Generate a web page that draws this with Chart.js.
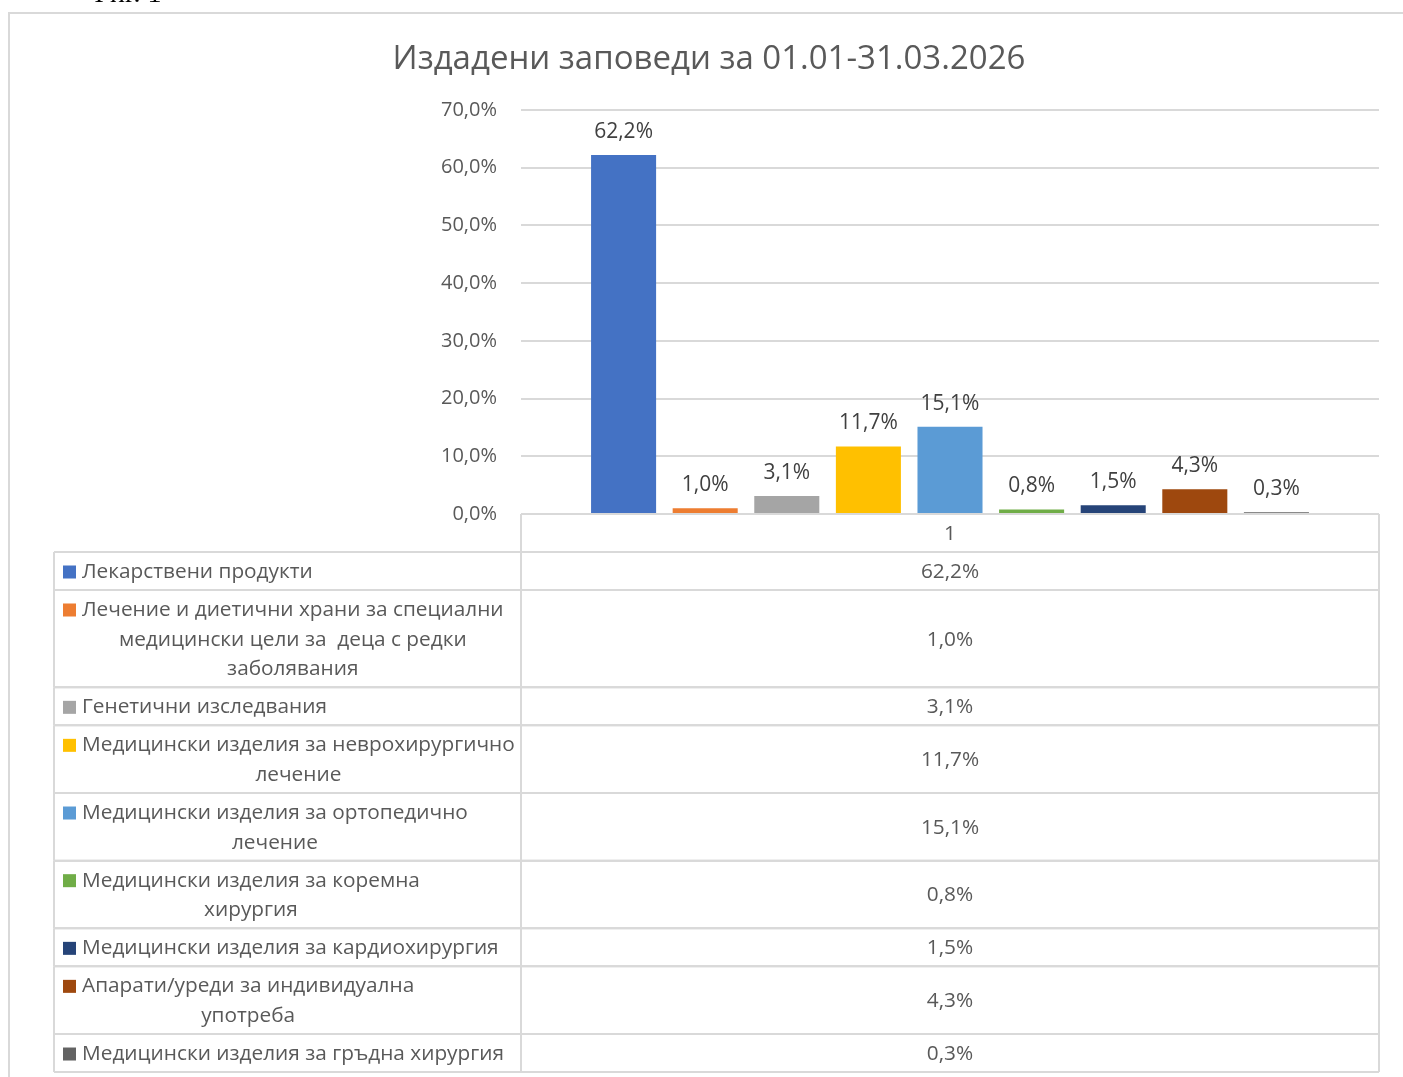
<!DOCTYPE html>
<html>
<head>
<meta charset="utf-8">
<script src="https://cdn.jsdelivr.net/npm/chart.js@4.4.1/dist/chart.umd.min.js"></script>
<style>
  html, body { margin: 0; padding: 0; background: #fff; }
  #wrap { position: relative; width: 1403px; height: 1077px; overflow: hidden; }
</style>
</head>
<body>
<div id="wrap"><canvas id="ordersChart" width="1403" height="1077"></canvas></div>
<script>
// categories / series
const categoryLabels = ["1"];
const seriesNames = [
  ["Лекарствени продукти"],
  ["Лечение и диетични храни за специални", "медицински цели за  деца с редки", "заболявания"],
  ["Генетични изследвания"],
  ["Медицински изделия за неврохирургично", "лечение"],
  ["Медицински изделия за ортопедично", "лечение"],
  ["Медицински изделия за коремна", "хирургия"],
  ["Медицински изделия за кардиохирургия"],
  ["Апарати/уреди за индивидуална", "употреба"],
  ["Медицински изделия за гръдна хирургия"]
];
const seriesValues = [62.2, 1.0, 3.1, 11.7, 15.1, 0.8, 1.5, 4.3, 0.3];
const seriesColors = ["#4472C4", "#ED7D31", "#A5A5A5", "#FFC000", "#5B9BD5", "#70AD47", "#264478", "#9E480E", "#636363"];
const yMin = 0, yMax = 70, yStep = 10;
const chartTitle = "Издадени заповеди за 01.01-31.03.2026";

const FONT = '"Open Sans", "Noto Sans", sans-serif';
const TEXT = "#595959";
const LINE = "#d9d9d9";
const PAD_LEFT = 39;

function pct(v) {
  return v.toFixed(1).replace(".", ",") + "%";
}

// labels over bars, data table under the plot, outer frame
const extras = {
  id: "extras",
  afterDraw(chart) {
    const ctx = chart.ctx;
    const area = chart.chartArea;
    ctx.save();

    // outer frame
    ctx.strokeStyle = LINE;
    ctx.lineWidth = 2;
    ctx.beginPath();
    ctx.moveTo(9, 1080); ctx.lineTo(9, 13); ctx.lineTo(1410, 13);
    ctx.stroke();

    // caption cut off at the top of the page
    ctx.fillStyle = "#000";
    ctx.font = '28px "Liberation Serif", serif';
    ctx.textAlign = "left";
    ctx.textBaseline = "alphabetic";
    ctx.fillText("Фиг. 1", 88, 2);

    // value labels
    ctx.fillStyle = "#404040";
    ctx.font = "21px " + FONT;
    ctx.textAlign = "center";
    ctx.textBaseline = "middle";
    chart.data.datasets.forEach((ds, i) => {
      const bar = chart.getDatasetMeta(i).data[0];
      ctx.fillText(pct(ds.data[0]), bar.x, bar.y - 23);
    });

    // data table
    const xL = 54, xM = area.left, xR = area.right;
    const lineH = 29.67, cellPad = 8.33;
    let y = area.bottom + 38;
    ctx.strokeStyle = LINE;
    ctx.lineWidth = 2;
    ctx.beginPath();
    ctx.moveTo(xM, area.bottom); ctx.lineTo(xM, area.bottom + 38);
    ctx.moveTo(xR, area.bottom); ctx.lineTo(xR, area.bottom + 38);
    ctx.stroke();
    ctx.font = "20.8px " + FONT;
    seriesNames.forEach((lines, i) => {
      const h = lines.length * lineH + cellPad;
      ctx.strokeStyle = LINE;
      ctx.beginPath();
      ctx.moveTo(xL, y); ctx.lineTo(xR, y);
      ctx.moveTo(xL, y + h); ctx.lineTo(xR, y + h);
      ctx.moveTo(xL, y); ctx.lineTo(xL, y + h);
      ctx.moveTo(xM, y); ctx.lineTo(xM, y + h);
      ctx.moveTo(xR, y); ctx.lineTo(xR, y + h);
      ctx.stroke();

      const top = y + h / 2 - (lines.length * lineH) / 2 + 1;
      const blockW = Math.max(...lines.map(t => ctx.measureText(t).width));
      ctx.fillStyle = seriesColors[i];
      ctx.fillRect(63, top + lineH / 2 - 6.5, 13, 13);
      ctx.fillStyle = TEXT;
      ctx.textBaseline = "middle";
      lines.forEach((t, k) => {
        ctx.textAlign = lines.length === 1 ? "left" : "center";
        const tx = ctx.textAlign === "left" ? 82 : 82 + blockW / 2;
        ctx.fillText(t, tx, top + lineH * (k + 0.5));
      });
      ctx.textAlign = "center";
      ctx.fillText(pct(seriesValues[i]), (xM + xR) / 2, y + h / 2 + 1);
      y += h;
    });
    ctx.restore();
  }
};

const ctx = document.getElementById("ordersChart").getContext("2d");
const ordersChart = new Chart(ctx, {
  type: "bar",
  data: {
    labels: categoryLabels,
    datasets: seriesNames.map((name, i) => ({
      label: name.join(" "),
      data: [seriesValues[i]],
      backgroundColor: seriesColors[i],
      borderWidth: 0,
      barPercentage: 0.797,
      categoryPercentage: 0.856
    }))
  },
  options: {
    responsive: false,
    animation: false,
    layout: { padding: { left: PAD_LEFT, right: 24, top: 0, bottom: 0 } },
    plugins: {
      legend: { display: false },
      tooltip: { enabled: false },
      title: {
        display: true,
        text: chartTitle,
        color: TEXT,
        font: { family: FONT, size: 33, weight: "normal" },
        padding: { top: 40, bottom: 30.4 }
      }
    },
    scales: {
      x: {
        grid: { display: false },
        border: { display: false },
        ticks: { color: TEXT, font: { family: FONT, size: 20.8 }, padding: 0 },
        afterFit(scale) { scale.height = 563; }
      },
      y: {
        min: yMin,
        max: yMax,
        border: { display: false },
        grid: { color: LINE, lineWidth: 2, drawTicks: false },
        ticks: {
          stepSize: yStep,
          color: TEXT,
          padding: 24,
          font: { family: FONT, size: 20 },
          callback: v => pct(v)
        },
        afterFit(scale) { scale.width = 521 - PAD_LEFT; }
      }
    }
  },
  plugins: [extras]
});
</script>
</body>
</html>
